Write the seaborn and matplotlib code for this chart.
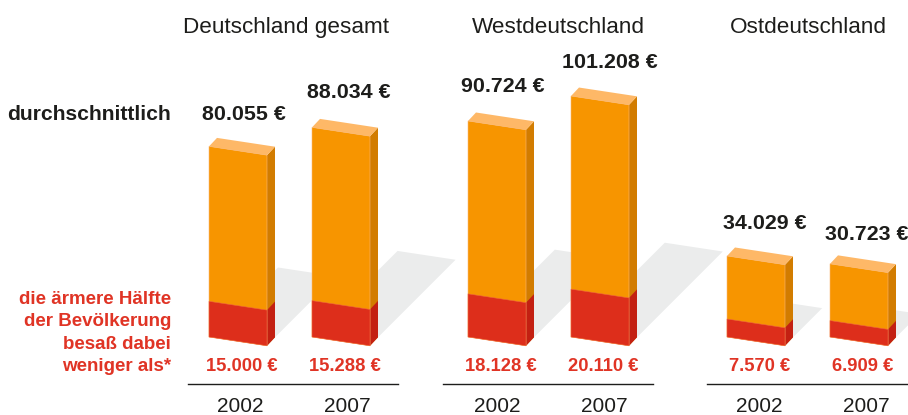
import matplotlib
matplotlib.use("Agg")
import matplotlib.pyplot as plt
from matplotlib.transforms import Affine2D
import pandas as pd
import seaborn as sns

groups = ["Deutschland gesamt", "Westdeutschland", "Ostdeutschland"]
years = ["2002", "2007"]
average = [[80055, 88034], [90724, 101208], [34029, 30723]]
poorer_half = [[15000, 15288], [18128, 20110], [7570, 6909]]

average_labels = [["80.055 €", "88.034 €"], ["90.724 €", "101.208 €"], ["34.029 €", "30.723 €"]]
poorer_labels = [["15.000 €", "15.288 €"], ["18.128 €", "20.110 €"], ["7.570 €", "6.909 €"]]

W, H = 908, 415
EUR_PX = 420          # euro per pixel, same in all panels
STEP = 103            # pixels between the two bars of a panel
BAR_W = 58
BASE_Y = 337          # pixel row of the front left bottom corner
AXIS_Y = 384
DEPTH_X, DEPTH_Y = 8, 8.5
SLOPE = 8.8 / BAR_W   # pixels of drop per pixel of width

ORANGE, ORANGE_TOP, ORANGE_SIDE = "#f79500", "#feb867", "#d27c00"
RED, RED_SIDE, RED_TEXT = "#dd2e1b", "#c32012", "#e03425"
SHADOW = "#ebecec"
BLACK = "#1d1d1b"

sns.set_style("white")
plt.rcParams["font.family"] = ["Liberation Sans", "DejaVu Sans"]

# panel layout in pixels: baseline start, baseline end, centre of first bar, title centre
panels = [(188, 398, 238, 286), (443, 653, 497, 558), (707, 908, 756, 808)]
year_px = [(240, 347), (497, 604), (759, 866)]
shadow_len = [[0.32, 0.37], [0.365, 0.356], [0.36, 0.32]]
label_dx = [[6, 8], [6, 10], [8.5, 7.5]]
label_dy = [[32, 35], [34, 34], [32, 29]]


def y_val(py):
    return (BASE_Y - py) * EUR_PX


fig = plt.figure(figsize=(W / 100, H / 100), dpi=100)
fig.patch.set_facecolor("white")

for i, (left, right, c0, title_x) in enumerate(panels):
    ax = fig.add_axes([left / W, (H - AXIS_Y) / H, (right - left) / W, AXIS_Y / H])
    ax.patch.set_visible(False)

    df = pd.DataFrame({"year": years, "average": average[i], "poorer": poorer_half[i]})
    sns.barplot(data=df, x="year", y="average", order=years, color=ORANGE, saturation=1,
                width=BAR_W / STEP, ax=ax, zorder=3)
    sns.barplot(data=df, x="year", y="poorer", order=years, color=RED, saturation=1,
                width=BAR_W / STEP, ax=ax, zorder=4)

    w = BAR_W / STEP
    k = -SLOPE * STEP * EUR_PX  # euro per x unit of the sloping front face
    dx, dy = DEPTH_X / STEP, DEPTH_Y * EUR_PX

    for p in ax.patches:
        x0 = p.get_x()
        p.set_transform(Affine2D.from_values(1, k, 0, 1, 0, -k * x0) + ax.transData)
        p.set_edgecolor("#fbb878" if p.get_facecolor()[1] > 0.4 else "#ef6a3c")
        p.set_linewidth(0.4)
        p.set_clip_on(False)

    for j in range(2):
        x0 = j - w / 2
        x1 = j + w / 2
        v = average[i][j]
        r = poorer_half[i][j]
        low = k * w

        # shadow on the floor, starts at the back edge of the bar
        d = shadow_len[i][j] * v / EUR_PX
        sx, sy = d / STEP, d * EUR_PX
        ax.fill([x0 + dx, x1 + dx, x1 + dx + sx, x0 + dx + sx],
                [dy, low + dy, low + dy + sy, dy + sy],
                color=SHADOW, lw=0, zorder=1, clip_on=False)

        # side and top faces
        ax.fill([x1, x1 + dx, x1 + dx, x1], [low + v, low + v + dy, low + dy, low],
                color=ORANGE_SIDE, lw=0, zorder=2)
        ax.fill([x1, x1 + dx, x1 + dx, x1], [low + r, low + r + dy, low + dy, low],
                color=RED_SIDE, lw=0, zorder=2.5)
        ax.fill([x0, x1, x1 + dx, x0 + dx], [v, v + low, v + low + dy, v + dy],
                color=ORANGE_TOP, lw=0, zorder=2)

        ax.text(j + label_dx[i][j] / STEP, v + label_dy[i][j] * EUR_PX, average_labels[i][j],
                ha="center", va="center", fontsize=15.4, fontweight="bold", color=BLACK,
                clip_on=False, zorder=6)
        ax.text(j + 3.5 / STEP, y_val(366.7), poorer_labels[i][j], ha="center", va="center",
                fontsize=13.2, fontweight="bold", color=RED_TEXT, zorder=6)

    ax.text((title_x - c0) / STEP, y_val(27), groups[i], ha="center", va="center",
            fontsize=16.2, color=BLACK)

    ax.set_xlim((left - c0) / STEP, (right - c0) / STEP)
    ax.set_ylim(y_val(AXIS_Y), y_val(0))
    ax.set_xlabel("")
    ax.set_ylabel("")
    ax.set_yticks([])
    ax.set_xticks([(px - c0) / STEP for px in year_px[i]], years)
    ax.tick_params(axis="x", length=0, pad=9, labelsize=15, labelcolor=BLACK)
    sns.despine(ax=ax, left=True)
    ax.spines["bottom"].set_color(BLACK)
    ax.spines["bottom"].set_linewidth(1.0)

fig.text(171 / W, 1 - 114.5 / H, "durchschnittlich", ha="right", va="center",
         fontsize=15.2, fontweight="bold", color=BLACK)
fig.text(171 / W, 1 - 333 / H, "die ärmere Hälfte\nder Bevölkerung\nbesaß dabei\nweniger als*",
         ha="right", va="center", multialignment="right", linespacing=1.39,
         fontsize=13.5, fontweight="bold", color=RED_TEXT)

fig.savefig("out.png", dpi=100)
